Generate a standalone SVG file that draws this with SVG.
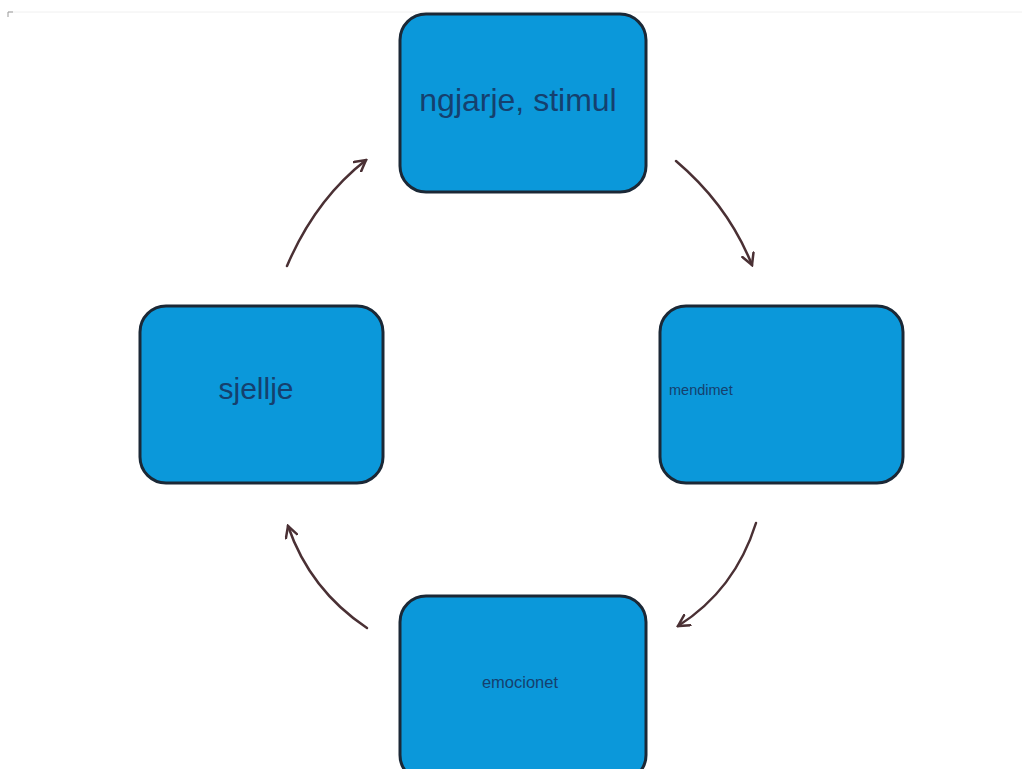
<svg xmlns="http://www.w3.org/2000/svg" width="1022" height="769" viewBox="0 0 1022 769">
<style>
.box{fill:#0b98da;stroke:#1b2836;stroke-width:3}
.lbl{font-family:"Liberation Sans",Arial,sans-serif;fill:#15406e}
.arr{fill:none;stroke:#4a3034;stroke-width:2.5;stroke-linecap:round}
</style>
<defs>
<marker id="ah" viewBox="0 0 14 14" refX="12" refY="7" markerWidth="14" markerHeight="14" markerUnits="userSpaceOnUse" orient="auto">
<path d="M1,1 L12,7 L1,13" fill="none" stroke="#4a3034" stroke-width="2.5" stroke-linecap="round"/>
</marker>
</defs>
<rect x="0" y="0" width="1022" height="769" fill="#ffffff"/>
<line x1="8" y1="12" x2="1022" y2="12" stroke="#f0f0f0" stroke-width="1"/>
<path d="M8,17 L8,12 L13,12" fill="none" stroke="#999" stroke-width="1"/>
<g id="n1"><rect class="box" x="400" y="14" width="246" height="178" rx="26"/><text class="lbl" x="518" y="111" font-size="32" text-anchor="middle">ngjarje, stimul</text></g>
<g id="n2"><rect class="box" x="660" y="306" width="243" height="177" rx="26"/><text class="lbl" x="669" y="395" font-size="14.5">mendimet</text></g>
<g id="n3"><rect class="box" x="400" y="596" width="246" height="185" rx="26"/><text class="lbl" x="520" y="688" font-size="16.5" text-anchor="middle">emocionet</text></g>
<g id="n4"><rect class="box" x="140" y="306" width="243" height="177" rx="26"/><text class="lbl" x="256" y="399" font-size="30" text-anchor="middle">sjellje</text></g>
<g id="connectors">
<path class="arr" d="M676,161 Q728,205 752,265" marker-end="url(#ah)"/>
<path class="arr" d="M756,523 Q735,590 678,626" marker-end="url(#ah)"/>
<path class="arr" d="M367,628 Q310,590 288,526" marker-end="url(#ah)"/>
<path class="arr" d="M287,266 Q315,200 366,160" marker-end="url(#ah)"/>
</g>
</svg>
